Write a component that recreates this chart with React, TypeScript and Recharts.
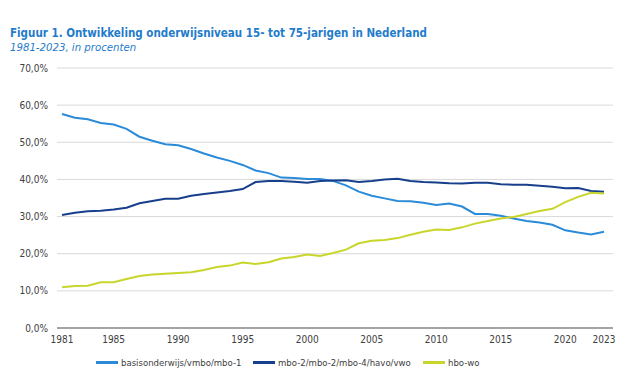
import React from "react";
import { LineChart, Line, XAxis, YAxis, CartesianGrid } from "recharts";

const years = [
  1981, 1982, 1983, 1984, 1985, 1986, 1987, 1988, 1989, 1990,
  1991, 1992, 1993, 1994, 1995, 1996, 1997, 1998, 1999, 2000,
  2001, 2002, 2003, 2004, 2005, 2006, 2007, 2008, 2009, 2010,
  2011, 2012, 2013, 2014, 2015, 2016, 2017, 2018, 2019, 2020,
  2021, 2022, 2023,
];

const basis = [
  57.6, 56.6, 56.2, 55.2, 54.8, 53.6, 51.5, 50.4, 49.5, 49.2,
  48.2, 47.0, 45.9, 45.0, 43.9, 42.4, 41.7, 40.5, 40.4, 40.1,
  40.1, 39.6, 38.4, 36.7, 35.6, 34.9, 34.2, 34.1, 33.7, 33.1,
  33.5, 32.7, 30.7, 30.7, 30.2, 29.5, 28.8, 28.4, 27.8, 26.3,
  25.7, 25.2, 25.9,
];

const mbo = [
  30.4, 31.0, 31.4, 31.6, 31.9, 32.4, 33.6, 34.2, 34.8, 34.8,
  35.6, 36.1, 36.5, 36.9, 37.4, 39.3, 39.6, 39.6, 39.4, 39.1,
  39.6, 39.7, 39.8, 39.3, 39.6, 40.0, 40.2, 39.6, 39.3, 39.2,
  39.0, 38.9, 39.1, 39.1, 38.7, 38.6, 38.6, 38.3, 38.0, 37.6,
  37.7, 36.9, 36.7,
];

const hbo = [
  11.0, 11.3, 11.4, 12.3, 12.3, 13.2, 14.0, 14.4, 14.6, 14.8,
  15.0, 15.6, 16.4, 16.8, 17.6, 17.2, 17.7, 18.7, 19.1, 19.8,
  19.4, 20.2, 21.1, 22.8, 23.5, 23.7, 24.2, 25.1, 25.9, 26.5,
  26.4, 27.1, 28.1, 28.8, 29.5, 29.9, 30.7, 31.5, 32.1, 33.9,
  35.3, 36.4, 36.2,
];

const xTicks = [1981, 1985, 1990, 1995, 2000, 2005, 2010, 2015, 2020, 2023];
const yTicks = [0, 10, 20, 30, 40, 50, 60, 70];

const seriesNames = [
  "basisonderwijs/vmbo/mbo-1",
  "mbo-2/mbo-2/mbo-4/havo/vwo",
  "hbo-wo",
];
const seriesColors = ["#2b8bd9", "#173f8c", "#c8d62b"];

const titleText = "Figuur 1. Ontwikkeling onderwijsniveau 15- tot 75-jarigen in Nederland";
const subtitleText = "1981-2023, in procenten";

const data = years.map((y, i) => ({
  year: y,
  basis: basis[i],
  mbo: mbo[i],
  hbo: hbo[i],
}));

const FONT = "'DejaVu Sans Condensed', 'DejaVu Sans', Verdana, sans-serif";

const legendLefts = [96, 253, 423];

const fmt = (v: number) => v.toFixed(1).replace(".", ",") + "%";

export default function App() {
  return (
    <div style={{ position: "absolute", left: 0, top: 0, width: 640, height: 380, background: "#fff" }}>
      <LineChart
        width={640}
        height={380}
        data={data}
        margin={{ top: 68, right: 27, bottom: 22, left: 0 }}
        style={{ position: "absolute", left: 0, top: 0 }}
      >
        <CartesianGrid vertical={false} stroke="#d9d9d9" strokeWidth={1} />
        <XAxis
          dataKey="year"
          type="number"
          domain={[1981, 2023]}
          ticks={xTicks}
          height={30}
          padding={{ left: 5, right: 9 }}
          tickLine={false}
          tickSize={0}
          tickMargin={8}
          axisLine={{ stroke: "#8c8c8c", strokeWidth: 1.5 }}
          tick={{ fontFamily: FONT, fontSize: 10, fill: "#404040" }}
          interval={0}
        />
        <YAxis
          width={57}
          domain={[0, 70]}
          ticks={yTicks}
          tickFormatter={fmt}
          tickLine={false}
          axisLine={false}
          tickSize={0}
          tickMargin={9}
          tick={{ fontFamily: FONT, fontSize: 10, fill: "#404040" }}
          interval={0}
        />
        <Line dataKey="basis" name={seriesNames[0]} stroke={seriesColors[0]} strokeWidth={2} dot={false} isAnimationActive={false} />
        <Line dataKey="mbo" name={seriesNames[1]} stroke={seriesColors[1]} strokeWidth={2} dot={false} isAnimationActive={false} />
        <Line dataKey="hbo" name={seriesNames[2]} stroke={seriesColors[2]} strokeWidth={2} dot={false} isAnimationActive={false} />
      </LineChart>
      <div
        style={{
          position: "absolute",
          left: 10,
          top: 26,
          fontFamily: FONT,
          fontWeight: "bold",
          fontSize: 11.5,
          color: "#1f7ccb",
          whiteSpace: "nowrap",
        }}
      >
        {titleText}
      </div>
      <div
        style={{
          position: "absolute",
          left: 10,
          top: 41,
          fontFamily: FONT,
          fontStyle: "italic",
          fontSize: 11.3,
          color: "#1f7ccb",
          whiteSpace: "nowrap",
        }}
      >
        {subtitleText}
      </div>
      {seriesNames.map((n, i) => (
        <div
          key={n}
          style={{
            position: "absolute",
            left: legendLefts[i],
            top: 357,
            display: "flex",
            alignItems: "center",
            whiteSpace: "nowrap",
          }}
        >
          <div style={{ width: 22, height: 3, background: seriesColors[i], marginRight: 3 }} />
          <span style={{ fontFamily: FONT, fontSize: 9.5, color: "#404040" }}>{n}</span>
        </div>
      ))}
    </div>
  );
}
